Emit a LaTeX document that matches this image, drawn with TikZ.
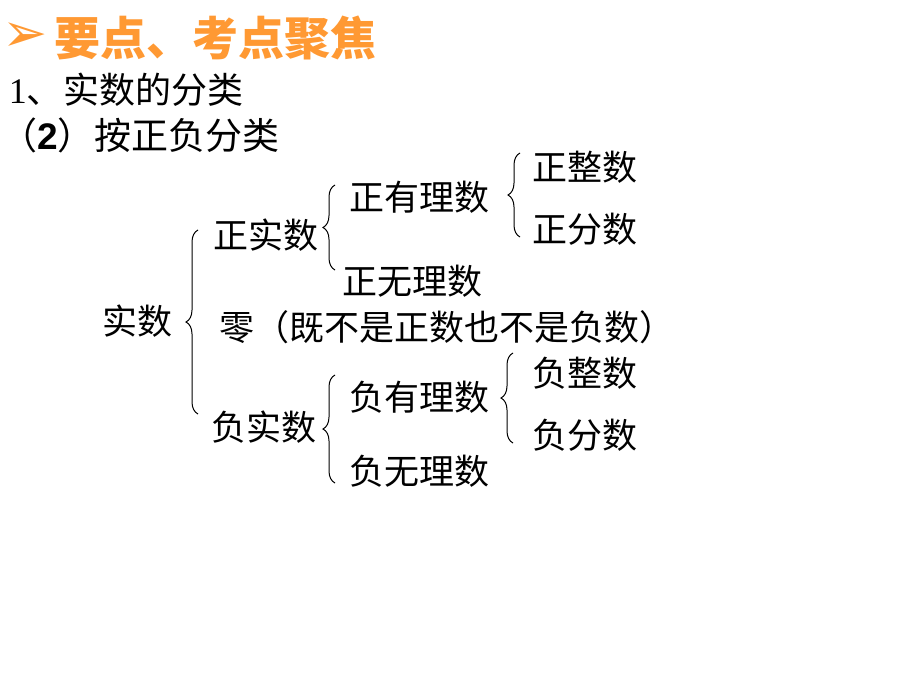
\documentclass[tikz,border=0pt]{standalone}
\usepackage{fontspec}
\setmainfont{Noto Sans CJK SC}
\newfontfamily\cjk{Noto Sans CJK SC}
\newfontfamily\symfont{DejaVu Sans}
\newfontfamily\lserif{Liberation Serif}
\newfontfamily\lsans{Liberation Sans}
\usetikzlibrary{decorations.pathreplacing}
\definecolor{titleorange}{RGB}{255,153,51}
\tikzset{
  lbl/.style={inner sep=0pt, outer sep=0pt, font=\cjk\fontsize{35}{40}\selectfont, text=black},
  ttl/.style={inner sep=0pt, outer sep=0pt, font=\cjk\bfseries\fontsize{46}{50}\selectfont, text=titleorange},
  head/.style={inner sep=0pt, outer sep=0pt, anchor=west, text=black},
  bracepath/.style={decorate, decoration={brace, amplitude=12pt}, line width=1pt, draw=black}
}
\begin{document}
\begin{tikzpicture}[x=1pt,y=-1pt]
\useasboundingbox[fill=white] (0,0) rectangle (920,690);
% title
\node[inner sep=0pt, text=titleorange, font=\symfont\fontsize{54}{60}\selectfont] (bul) at (25,37) {➢};
\node[ttl, anchor=west] (title) at (54,38) {要点、考点聚焦};
\node[head, font=\cjk\fontsize{36}{40}\selectfont] (h1) at (9,90) {{\lserif 1}、实数的分类};
\node[head, font=\cjk\fontsize{37}{42}\selectfont] (h2) at (0,135) {（{\lsans\bfseries 2}）按正负分类};
% tree labels
\node[lbl] (shishu) at (137,321) {实数};
\node[lbl] (zsh) at (266,235) {正实数};
\node[lbl] (zero) at (447,327) {零（既不是正数也不是负数）};
\node[lbl] (fsh) at (264,427) {负实数};
\node[lbl] (zyl) at (419,197) {正有理数};
\node[lbl] (zwl) at (412,281) {正无理数};
\node[lbl] (zzs) at (585,167) {正整数};
\node[lbl] (zfs) at (585,229) {正分数};
\node[lbl] (fyl) at (419,397) {负有理数};
\node[lbl] (fwl) at (419,471) {负无理数};
\node[lbl] (fzs) at (585,373) {负整数};
\node[lbl] (ffs) at (585,435) {负分数};
% brace end points
\coordinate (b0t) at (198,230); \coordinate (b0b) at (198,414);
\coordinate (b1t) at (335,185); \coordinate (b1b) at (335,270);
\coordinate (b2t) at (520,153); \coordinate (b2b) at (520,237);
\coordinate (b3t) at (335,375); \coordinate (b3b) at (335,483);
\coordinate (b4t) at (513,353); \coordinate (b4b) at (513,443);
\draw[bracepath] (b0b) -- (b0t);
\draw[bracepath] (b1b) -- (b1t);
\draw[bracepath] (b2b) -- (b2t);
\draw[bracepath] (b3b) -- (b3t);
\draw[bracepath] (b4b) -- (b4t);
\end{tikzpicture}
\end{document}
